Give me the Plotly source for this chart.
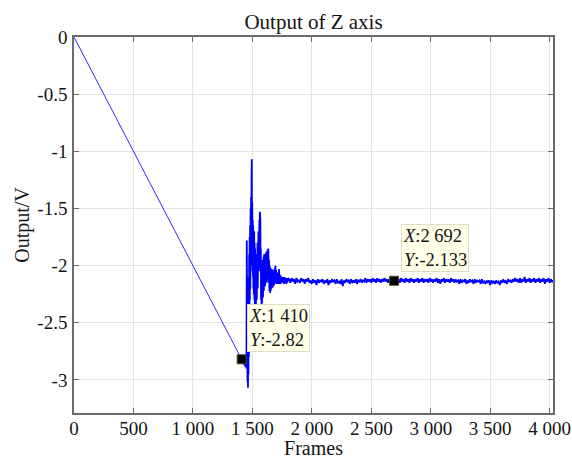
import plotly.graph_objects as go

# ---------------- data ----------------
ramp_x = [0, 1410]
ramp_y = [0.0, -2.82]

trans_x = [1410, 1420, 1430, 1440, 1445, 1450, 1453, 1455, 1457, 1459, 1461, 1463, 1465, 1467, 1469,
           1471, 1473, 1475, 1477, 1479, 1481, 1483, 1485, 1487, 1489, 1491, 1493, 1495, 1497, 1499,
           1501, 1503, 1505, 1507, 1509, 1511, 1513, 1515, 1517, 1519, 1521, 1523, 1525, 1527, 1529,
           1531, 1533, 1535, 1537, 1539, 1541, 1543, 1545, 1547, 1549, 1551, 1553, 1555, 1557, 1559,
           1561, 1563, 1565, 1567, 1569, 1571, 1573, 1575, 1577, 1579, 1581, 1583, 1585, 1587, 1589,
           1591, 1593, 1595, 1597, 1599, 1601, 1604, 1607, 1610, 1613, 1616, 1619, 1622, 1625, 1628,
           1631, 1634, 1637, 1640, 1643, 1646, 1649, 1652, 1655, 1658, 1661, 1664, 1667, 1670, 1673,
           1676, 1679, 1682, 1685, 1688, 1691, 1694, 1697, 1700, 1704, 1708, 1712, 1716, 1720, 1724,
           1728, 1732, 1736, 1740, 1745, 1750, 1755, 1760, 1765, 1770, 1775, 1780, 1785, 1790, 1795,
           1800]
trans_y = [-2.82, -2.84, -2.86, -2.88, -2.87, -2.90, -1.78, -2.95, -2.20, -3.02, -2.50, -3.07, -2.30, -2.95, -2.10,
           -2.80, -1.90, -2.55, -1.75, -2.30, -1.65, -2.20, -1.50, -2.05, -1.40, -1.95, -1.25, -1.07, -1.80, -1.45,
           -2.00, -1.60, -2.10, -1.65, -2.20, -1.75, -2.25, -1.70, -2.30, -1.80, -2.35, -1.85, -2.38, -1.90, -2.40,
           -1.95, -2.36, -1.90, -2.30, -1.85, -2.25, -1.80, -2.20, -1.75, -2.15, -1.70, -2.05, -1.65, -2.00, -1.60,
           -1.95, -1.53, -1.90, -1.60, -2.05, -1.85, -2.30, -2.00, -2.36, -2.05, -2.33, -2.00, -2.30, -1.95, -2.28,
           -1.95, -2.25, -1.92, -2.22, -1.90, -2.20, -1.92, -2.18, -1.90, -2.16, -1.88, -2.15, -1.90, -2.14, -1.86,
           -2.12, -1.85, -2.15, -1.95, -2.22, -2.00, -2.24, -2.02, -2.22, -2.05, -2.20, -2.03, -2.19, -2.05, -2.18,
           -2.04, -2.17, -2.06, -2.16, -2.02, -2.15, -2.00, -2.14, -2.04, -2.16, -2.06, -2.15, -2.07, -2.16, -2.03,
           -2.14, -2.08, -2.16, -2.09, -2.15, -2.10, -2.15, -2.10, -2.16, -2.10, -2.15, -2.11, -2.16, -2.11, -2.15,
           -2.11]

steady_start = 1810
steady_step = 10
steady_y = [
    -2.12, -2.15, -2.11, -2.14, -2.12, -2.16, -2.11, -2.14, -2.13, -2.15,
    -2.11, -2.14, -2.12, -2.16, -2.12, -2.14, -2.11, -2.15, -2.13, -2.16,
    -2.12, -2.15, -2.13, -2.17, -2.12, -2.15, -2.13, -2.14, -2.12, -2.16,
    -2.13, -2.15, -2.12, -2.17, -2.13, -2.15, -2.12, -2.14, -2.13, -2.16,
    -2.12, -2.15, -2.14, -2.16, -2.12, -2.18, -2.13, -2.15, -2.12, -2.14,
    -2.13, -2.16, -2.12, -2.15, -2.13, -2.15, -2.12, -2.16, -2.13, -2.14,
    -2.12, -2.15, -2.13, -2.14, -2.11, -2.15, -2.12, -2.14, -2.12, -2.15,
    -2.11, -2.14, -2.12, -2.15, -2.11, -2.14, -2.12, -2.15, -2.12, -2.14,
    -2.11, -2.14, -2.12, -2.15, -2.12, -2.14, -2.11, -2.15, -2.12, -2.14,
    -2.11, -2.14, -2.12, -2.15, -2.11, -2.14, -2.12, -2.15, -2.11, -2.14,
    -2.12, -2.15, -2.11, -2.14, -2.12, -2.15, -2.12, -2.14, -2.11, -2.15,
    -2.12, -2.14, -2.11, -2.15, -2.12, -2.14, -2.12, -2.15, -2.11, -2.14,
    -2.12, -2.15, -2.12, -2.14, -2.11, -2.15, -2.12, -2.16, -2.12, -2.14,
    -2.11, -2.15, -2.12, -2.14, -2.12, -2.15, -2.11, -2.14, -2.12, -2.15,
    -2.12, -2.14, -2.13, -2.16, -2.12, -2.15, -2.13, -2.14, -2.12, -2.16,
    -2.13, -2.15, -2.12, -2.14, -2.13, -2.16, -2.12, -2.15, -2.13, -2.14,
    -2.13, -2.16, -2.12, -2.15, -2.14, -2.16, -2.13, -2.15, -2.13, -2.17,
    -2.13, -2.15, -2.14, -2.16, -2.13, -2.15, -2.14, -2.17, -2.13, -2.15,
    -2.12, -2.15, -2.13, -2.16, -2.12, -2.14, -2.13, -2.15, -2.12, -2.14,
    -2.11, -2.14, -2.12, -2.15, -2.11, -2.15, -2.12, -2.14, -2.10, -2.15,
    -2.12, -2.14, -2.11, -2.15, -2.12, -2.14, -2.11, -2.15, -2.12, -2.14,
    -2.11, -2.15, -2.12, -2.14, -2.11, -2.16, -2.12, -2.14, -2.11, -2.15,
    -2.12, -2.14, -2.13,
]
steady_x = [steady_start + steady_step * i for i in range(len(steady_y))]

tip_x = [1410, 2692]
tip_y = [-2.82, -2.133]
tip_text = ["<i>X</i>:1 410<br><i>Y</i>:-2.82", "<i>X</i>:2 692<br><i>Y</i>:-2.133"]

x_ticks = [0, 500, 1000, 1500, 2000, 2500, 3000, 3500, 4000]
x_ticklabels = ["0", "500", "1 000", "1 500", "2 000", "2 500", "3 000", "3 500", "4 000"]
y_ticks = [0, -0.5, -1, -1.5, -2, -2.5, -3]
y_ticklabels = ["0", "-0.5", "-1", "-1.5", "-2", "-2.5", "-3"]

# ---------------- figure ----------------
FONT = "Liberation Serif, Times New Roman, serif"
TXT = "#141414"

fig = go.Figure()
fig.add_trace(go.Scatter(x=ramp_x, y=ramp_y, mode="lines",
                         line=dict(color="#2a2aff", width=1), showlegend=False))
fig.add_trace(go.Scatter(x=trans_x + steady_x, y=trans_y + steady_y, mode="lines",
                         line=dict(color="#0000FF", width=1.8), showlegend=False))
fig.add_trace(go.Scatter(x=tip_x, y=tip_y, mode="markers",
                         marker=dict(symbol="square", size=9, color="#000000",
                                     line=dict(color="#4a4a20", width=1)),
                         showlegend=False))

shifts = [(5, 7), (7, 9)]
for (tx, ty, tt, (xs, ys)) in zip(tip_x, tip_y, tip_text, shifts):
    fig.add_annotation(x=tx, y=ty, text=tt, showarrow=False, xanchor="left", yanchor="bottom",
                       xshift=xs, yshift=ys, align="left",
                       font=dict(family=FONT, size=18.5, color=TXT),
                       bgcolor="#FFFFEA", bordercolor="#DCDCC8", borderwidth=1, borderpad=1)

axis_common = dict(showline=True, linecolor="#6a6a6a", linewidth=1.5, mirror="ticks",
                   ticks="inside", ticklen=5, tickcolor="#6a6a6a", tickwidth=1,
                   showgrid=True, gridcolor="#E4E4E4", gridwidth=1, zeroline=False,
                   automargin=False, ticklabeloverflow="allow",
                   tickfont=dict(family=FONT, size=19, color=TXT))

fig.update_xaxes(range=[0, 4028], tickvals=x_ticks, ticktext=x_ticklabels,
                 title=dict(text="Frames", font=dict(family=FONT, size=20, color=TXT), standoff=0),
                 ticklabelstandoff=-3, **axis_common)
fig.update_yaxes(range=[-3.29, 0], tickvals=y_ticks, ticktext=y_ticklabels,
                 title=dict(text="Output/V", font=dict(family=FONT, size=20, color=TXT), standoff=2),
                 ticklabelstandoff=1, **axis_common)

fig.update_layout(
    width=572, height=459,
    margin=dict(l=74, r=19, t=37, b=46, autoexpand=False),
    plot_bgcolor="white", paper_bgcolor="white",
    title=dict(text="Output of Z axis", x=0.5, xanchor="center", xref="paper",
               y=1 - 22 / 459, yref="container", yanchor="middle",
               font=dict(family=FONT, size=21, color=TXT)),
)

fig.write_html("out.html")
